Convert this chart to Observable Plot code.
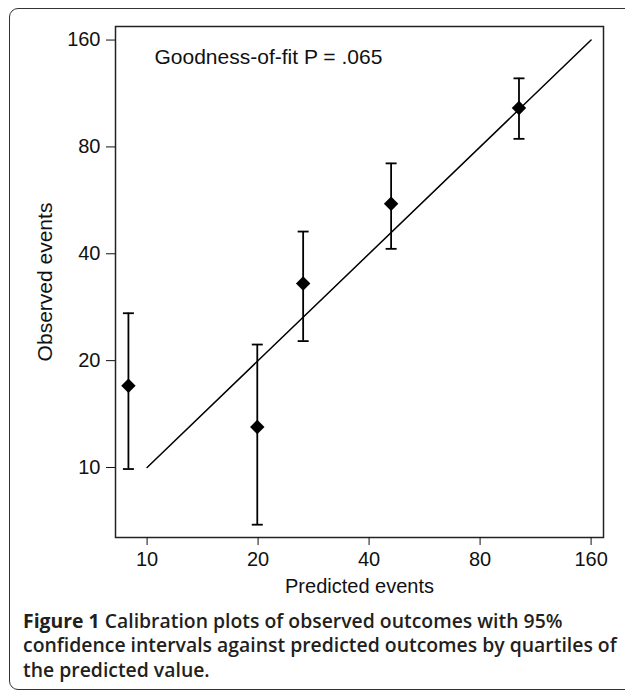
<!DOCTYPE html>
<html>
<head>
<meta charset="utf-8">
<script src="https://cdn.jsdelivr.net/npm/d3@7"></script>
<script src="https://cdn.jsdelivr.net/npm/@observablehq/plot@0.6"></script>
<style>
  body { margin: 0; background: #fff; }
  #wrap { position: relative; width: 625px; height: 693px; overflow: hidden; }
  #border { position: absolute; left: 9px; top: 8px; width: 640px; height: 682px;
            border: 1.5px solid #333; border-radius: 9px; box-sizing: border-box; }
  #chart { position: absolute; left: 0; top: 0; }
  #caption { position: absolute; left: 23px; top: 609px; width: 602px; white-space: nowrap;
             font-family: "Open Sans", sans-serif; font-size: 19.4px; font-weight: 600;
             line-height: 24.3px; color: #231f20; }
  #caption b { font-weight: 700; }
</style>
</head>
<body>
<div id="wrap">
  <div id="border"></div>
  <div id="chart"></div>
  <div id="caption"><b>Figure 1</b> Calibration plots of observed outcomes with 95%<br>confidence intervals against predicted outcomes by quartiles of<br>the predicted value.</div>
</div>
<script>
// Data (log-log calibration plot)
const predicted = [8.9, 19.9, 26.5, 45.9, 102];
const observed  = [17.0, 13.0, 33.0, 55.3, 103];
const ciLower   = [9.9, 6.9, 22.7, 41.3, 84.3];
const ciUpper   = [27.2, 22.2, 46.2, 71.9, 124.8];
const refLine   = [10, 160];
const xTicks    = [10, 20, 40, 80, 160];
const yTicks    = [10, 20, 40, 80, 160];
const annotation = "Goodness-of-fit P = .065";

const points = predicted.map((p, i) => ({pred: p, obs: observed[i], lo: ciLower[i], hi: ciUpper[i]}));
const diag = refLine.map(v => ({v}));

const capSymbol = {
  draw(context) { context.moveTo(-5.5, 0); context.lineTo(5.5, 0); }
};

const chart = Plot.plot({
  width: 625,
  height: 600,
  marginLeft: 115,
  marginRight: 22,
  marginTop: 26,
  marginBottom: 63,
  style: { fontFamily: "'Liberation Sans', Arial, sans-serif", fontSize: "20px", color: "#111", background: "transparent" },
  x: { type: "log", domain: [8.21, 172.9] },
  y: { type: "log", domain: [6.35, 174.7] },
  marks: [
    Plot.frame({ stroke: "#222", strokeWidth: 1.5 }),
    Plot.axisX({ ticks: xTicks, tickFormat: d => String(d), tickSize: 8, tickPadding: 6,
                 label: "Predicted events", labelAnchor: "center", labelArrow: false, labelOffset: 55,
                 fontSize: 20 }),
    Plot.axisY({ ticks: yTicks, tickFormat: () => "", tickSize: 9, tickPadding: 5,
                 label: "Observed events", labelAnchor: "center", labelArrow: false, labelOffset: 78,
                 fontSize: 21 }),
    Plot.text(yTicks, { y: d => d, text: d => String(d), frameAnchor: "left", dx: -15,
                        textAnchor: "end", lineAnchor: "middle", fontSize: 20, fill: "#111" }),
    Plot.line(diag, { x: "v", y: "v", stroke: "#000", strokeWidth: 1.5 }),
    Plot.ruleX(points, { x: "pred", y1: "lo", y2: "hi", stroke: "#000", strokeWidth: 1.8 }),
    Plot.dot(points, { x: "pred", y: "hi", symbol: capSymbol, stroke: "#000", strokeWidth: 1.8, fill: "none" }),
    Plot.dot(points, { x: "pred", y: "lo", symbol: capSymbol, stroke: "#000", strokeWidth: 1.8, fill: "none" }),
    Plot.dot(points, { x: "pred", y: "obs", symbol: "diamond2", r: 6.5, fill: "#000", stroke: "none" }),
    Plot.text([annotation], { frameAnchor: "top-left", text: d => d, dx: 39, dy: 31,
                              textAnchor: "start", lineAnchor: "middle", fontSize: 21, fill: "#111" })
  ]
});
document.getElementById("chart").appendChild(chart);
</script>
</body>
</html>
